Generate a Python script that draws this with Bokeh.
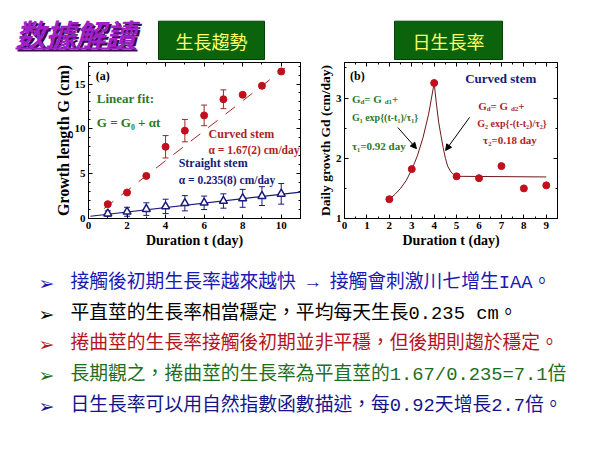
import numpy as np
from bokeh.plotting import figure
from bokeh.models import (Range1d, LinearAxis, SingleIntervalTicker, ColumnDataSource,
                          Whisker, TeeHead, Label, Arrow, NormalHead, CustomJSTickFormatter)
from bokeh.layouts import column, row
from bokeh.embed import file_html
from bokeh.resources import INLINE
from bokeh.core.properties import value

# ---------------- data ----------------
days_a = [1, 2, 3, 4, 5, 6, 7, 8, 9, 10]
curved_g = [1.6, 2.9, 4.75, 8.0, 9.8, 11.5, 13.3, 13.8, 14.8, 16.4]
curved_err = [0.15, 0.15, 0.2, 1.25, 1.25, 1.15, 1.05, 0.15, 0.25, 0.15]
straight_g = [0.55, 0.75, 1.05, 1.35, 1.7, 1.75, 1.95, 2.25, 2.5, 2.75]
straight_err = [0.3, 0.5, 0.7, 0.8, 0.85, 0.75, 0.8, 1.0, 1.05, 1.15]
curved_fit_t = [0.8, 10.2]
curved_fit_g = [1.1, 16.8]
straight_fit_t = [0.1, 11.0]
straight_fit_g = [0.25, 2.95]

days_b = [2, 3, 4, 5, 6, 7, 8, 9]
daily_g = [1.32, 1.82, 3.25, 1.70, 1.67, 1.87, 1.50, 1.55]
curve_b_t = [2.0, 2.25, 2.5, 2.75, 3.0, 3.25, 3.5, 3.75, 4.0, 4.1, 4.2, 4.3, 4.4, 4.5, 4.6, 4.75, 4.9, 5.1, 9.0]
curve_b_g = [1.32, 1.40, 1.50, 1.63, 1.81, 2.04, 2.34, 2.73, 3.25, 2.90, 2.60, 2.38, 2.18, 2.00, 1.87, 1.77, 1.72, 1.70, 1.69]

bullet_lines = [
    "接觸後初期生長率越來越快 → 接觸會刺激川七增生IAA。",
    "平直莖的生長率相當穩定，平均每天生長0.235 cm。",
    "捲曲莖的生長率接觸後初期並非平穩，但後期則趨於穩定。",
    "長期觀之，捲曲莖的生長率為平直莖的1.67/0.235=7.1倍",
    "日生長率可以用自然指數函數描述，每0.92天增長2.7倍。",
]
bullet_colors = ["#1a1ab4", "#000000", "#b4141e", "#1e6e1e", "#14148c"]

SERIF = "Liberation Serif"
CJK = "Noto Sans CJK TC"
RED = "#c0101e"
RED_T = "#b01e28"
NAVY = "#1a1a7a"
GREEN = "#2a7a2a"


def style_axes(p, xtick, xminor, ytick, yminor, xlabel, ylabel, ylabel_size):
    p.below[0].ticker = SingleIntervalTicker(interval=xtick, num_minor_ticks=xminor)
    p.left[0].ticker = SingleIntervalTicker(interval=ytick, num_minor_ticks=yminor)
    p.below[0].axis_label = xlabel
    p.left[0].axis_label = ylabel
    for ax in (p.below[0], p.left[0]):
        ax.major_tick_in = 4
        ax.major_tick_out = 0
        ax.minor_tick_in = 2
        ax.minor_tick_out = 0
        ax.axis_line_color = "black"
        ax.major_label_text_font = SERIF
        ax.major_label_text_font_style = "bold"
        ax.major_label_text_font_size = "11px"
        ax.major_label_text_color = "black"
        ax.major_label_standoff = 3
        ax.axis_label_text_font = SERIF
        ax.axis_label_text_font_style = "bold"
        ax.axis_label_text_font_size = "14px"
        ax.axis_label_text_color = "black"
        ax.axis_label_standoff = 1
    p.left[0].axis_label_text_font_size = ylabel_size
    p.left[0].axis_label_standoff = 0
    p.grid.visible = False
    p.outline_line_color = "black"
    # mirror axes (ticks only)
    for loc, tick, minor in (("above", xtick, xminor), ("right", ytick, yminor)):
        ax = LinearAxis(ticker=SingleIntervalTicker(interval=tick, num_minor_ticks=minor),
                        major_tick_in=4, major_tick_out=0, minor_tick_in=2, minor_tick_out=0,
                        major_label_standoff=0, major_label_text_font_size="0px",
                        formatter=CustomJSTickFormatter(code="return ''"),
                        axis_line_color="black")
        p.add_layout(ax, loc)


def lab(p, x, y, text, color, size, style="bold", xo=0, yo=0, font=SERIF):
    p.add_layout(Label(x=x, y=y, text=text, text_color=color, text_font=font,
                       text_font_size=f"{size}px", text_font_style=style,
                       text_baseline="middle", text_align="left",
                       x_offset=xo, y_offset=yo))


def sub_text(p, x, y, pieces, color, size=11, sub_size=7):
    # pieces: list of (text, is_sub, width_em)
    xo = 0.0
    for txt, is_sub, wem in pieces:
        if is_sub:
            lab(p, x, y, txt, color, sub_size, xo=xo, yo=-3)
            xo += wem * sub_size
        else:
            lab(p, x, y, txt, color, size, xo=xo)
            xo += wem * size


# ---------------- header (page y 0..60) ----------------
hd = figure(width=592, height=60, x_range=Range1d(0, 592), y_range=Range1d(60, 0),
            output_backend="svg", toolbar_location=None, x_axis_type=None, y_axis_type=None,
            min_border=0)
hd.outline_line_color = None
hd.grid.visible = False
hd.text(x=[17], y=[34], text=["数據解讀"], text_font=value(CJK), text_font_style="bold italic",
        text_font_size="30px", text_color="#3c0a50", text_baseline="middle")
hd.text(x=[15], y=[32], text=["数據解讀"], text_font=value(CJK), text_font_style="bold italic",
        text_font_size="30px", text_color="#a020c8", text_baseline="middle")
hd.line([17, 137], [50, 50], line_color="#3c0a50", line_width=2)
hd.line([15, 135], [48, 48], line_color="#a020c8", line_width=2)
hd.quad(left=[158, 394], right=[264, 502], top=[20.7, 20.7], bottom=[59, 59],
        fill_color="#0b640b", line_color="#064006", line_width=1)
hd.text(x=[211, 448], y=[40, 40], text=["生長趨勢", "日生長率"], text_font=value(CJK),
        text_font_size="18px", text_color="#ffff66", text_align="center", text_baseline="middle")

# ---------------- chart (a) (page x 0..310, y 60..252) ----------------
pa = figure(width=310, height=192, x_range=Range1d(0, 11), y_range=Range1d(0, 17.4),
            output_backend="svg", toolbar_location=None,
            min_border_left=88, min_border_right=10, min_border_top=2, min_border_bottom=34)
style_axes(pa, 2, 2, 5, 5, "Duration t (day)", "Growth length G (cm)", "16px")

src_c = ColumnDataSource(dict(t=days_a, g=curved_g,
                              lo=np.array(curved_g) - np.array(curved_err),
                              hi=np.array(curved_g) + np.array(curved_err)))
src_s = ColumnDataSource(dict(t=days_a, g=straight_g,
                              lo=np.array(straight_g) - np.array(straight_err),
                              hi=np.array(straight_g) + np.array(straight_err)))
pa.line(curved_fit_t, curved_fit_g, line_color="#a02828", line_width=1, line_dash="12 10")
pa.line(straight_fit_t, straight_fit_g, line_color=NAVY, line_width=1.2)
pa.add_layout(Whisker(source=src_c, base="t", upper="hi", lower="lo", line_color="#a02828",
                      upper_head=TeeHead(size=6, line_color="#a02828"),
                      lower_head=TeeHead(size=6, line_color="#a02828")))
pa.add_layout(Whisker(source=src_s, base="t", upper="hi", lower="lo", line_color=NAVY,
                      upper_head=TeeHead(size=6, line_color=NAVY),
                      lower_head=TeeHead(size=6, line_color=NAVY)))
pa.scatter("t", "g", source=src_c, marker="circle", size=7, fill_color=RED, line_color=RED)
pa.scatter("t", "g", source=src_s, marker="triangle", size=8, fill_color="white",
           line_color=NAVY, line_width=1.5)

lab(pa, 0.38, 15.87, "(a)", "black", 12)
lab(pa, 0.43, 13.33, "Linear fit:", GREEN, 13)
lab(pa, 0.43, 10.73, "G = G₀ + αt", GREEN, 13)
lab(pa, 6.23, 9.37, "Curved stem", RED_T, 12)
lab(pa, 6.23, 7.67, "α = 1.67(2) cm/day", RED_T, 11.5)
lab(pa, 4.68, 6.14, "Straight stem", NAVY, 12)
lab(pa, 4.68, 4.26, "α = 0.235(8) cm/day", NAVY, 11.5)

# ---------------- chart (b) (page x 310..592) ----------------
pb = figure(width=282, height=192, x_range=Range1d(0, 9.5), y_range=Range1d(1, 3.59),
            output_backend="svg", toolbar_location=None,
            min_border_left=34, min_border_right=35, min_border_top=2, min_border_bottom=34)
style_axes(pb, 1, 2, 1, 2, "Duration t (day)", "Daily growth Gd (cm/day)", "13.5px")

pb.line(curve_b_t, curve_b_g, line_color="#6a1a1a", line_width=1)
pb.scatter(days_b, daily_g, marker="circle", size=7, fill_color=RED, line_color=RED)

lab(pb, 0.25, 3.37, "(b)", "black", 12)
lab(pb, 5.38, 3.32, "Curved stem", NAVY, 13)
sub_text(pb, 0.33, 2.99, [("G", False, 0.778), ("d", True, 0.556), (" = G", False, 1.848),
                          ("d1", True, 1.056), (" +", False, 0.82)], GREEN)
lab(pb, 0.33, 2.67, "G₁ exp{(t-t₁)/τ₁}", GREEN, 10)
lab(pb, 0.33, 2.21, "τ₁=0.92 day", GREEN, 11)
sub_text(pb, 5.96, 2.87, [("G", False, 0.778), ("d", True, 0.556), (" = G", False, 1.848),
                          ("d2", True, 1.056), (" +", False, 0.82)], RED_T)
lab(pb, 5.92, 2.58, "G₂ exp{-(t-t₂)/τ₂}", RED_T, 10)
lab(pb, 6.18, 2.30, "τ₂=0.18 day", RED_T, 11)
pb.add_layout(Arrow(end=NormalHead(size=6, fill_color="black", line_color="black"),
                    x_start=2.38, y_start=2.51, x_end=3.21, y_end=2.16,
                    line_color="black", line_width=1))
pb.add_layout(Arrow(end=NormalHead(size=6, fill_color="black", line_color="black"),
                    x_start=5.58, y_start=2.68, x_end=4.51, y_end=2.13,
                    line_color="black", line_width=1))

# ---------------- bullet text (page y 252..444) ----------------
tx = figure(width=592, height=192, x_range=Range1d(0, 592), y_range=Range1d(444, 252),
            output_backend="svg", toolbar_location=None, x_axis_type=None, y_axis_type=None,
            min_border=0)
tx.outline_line_color = None
tx.grid.visible = False
line_y = [282, 313, 343, 374, 405]
tx.text(x=[46] * 5, y=line_y, text=["➢"] * 5, text_font=value("DejaVu Sans"),
        text_font_size="19px", text_color=bullet_colors, text_align="center",
        text_baseline="middle")
tx.text(x=[70] * 5, y=line_y, text=bullet_lines,
        text_font=value("'Liberation Mono', 'Noto Sans CJK TC'"),
        text_font_size="18.8px", text_color=bullet_colors, text_align="left",
        text_baseline="middle")

layout = column(hd, row(pa, pb), tx)
open("out.html", "w").write(file_html(layout, INLINE))
